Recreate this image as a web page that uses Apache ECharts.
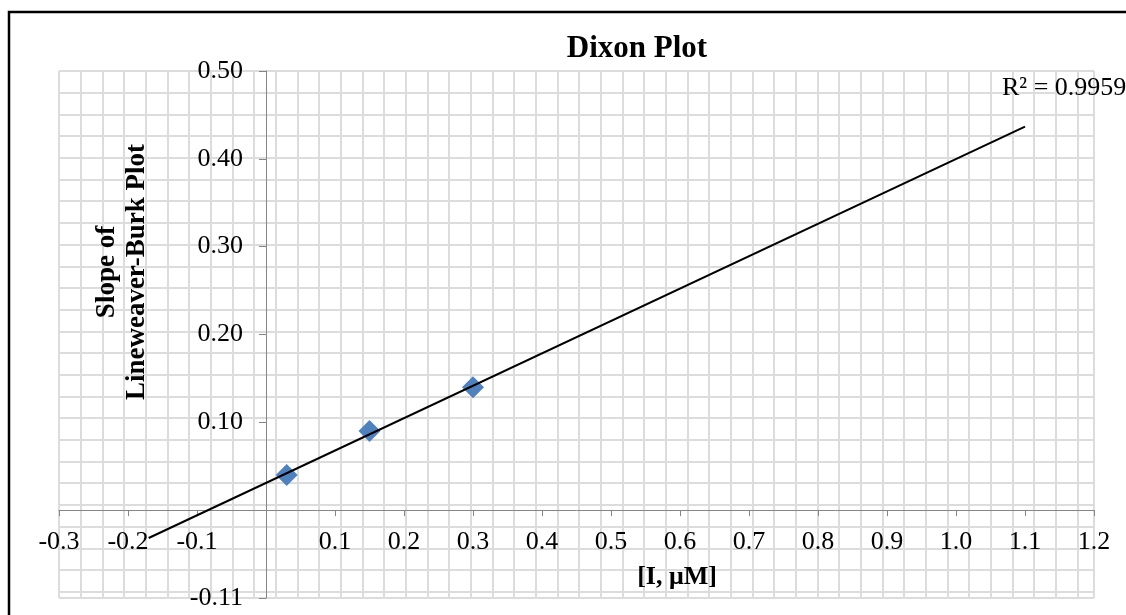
<!DOCTYPE html>
<html>
<head>
<meta charset="utf-8">
<title>Dixon Plot</title>
<script src="https://cdn.jsdelivr.net/npm/echarts@6/dist/echarts.min.js"></script>
<style>
  html, body { margin: 0; padding: 0; background: #fff; }
  #chart { width: 1126px; height: 615px; }
</style>
</head>
<body>
<div id="chart"></div>
<script>
  // measured points
  var inhibitorConc = [0.03, 0.15, 0.30];
  var lbSlope = [0.04, 0.09, 0.14];

  // linear trendline (excel: backward 0.2, forward 0.8)
  var trendX = [-0.17, 1.10];
  var trendY = [-0.0317, 0.4367];
  var rSquaredText = 'R\u00b2 = 0.9959';

  // tick labels, the zero ones are blank in the original
  var xTickValues = [-0.3, -0.2, -0.1, 0, 0.1, 0.2, 0.3, 0.4, 0.5, 0.6, 0.7, 0.8, 0.9, 1.0, 1.1, 1.2];
  var xTickLabels = ['-0.3', '-0.2', '-0.1', '', '0.1', '0.2', '0.3', '0.4', '0.5', '0.6', '0.7', '0.8', '0.9', '1.0', '1.1', '1.2'];
  var yTickValues = [-0.1, 0, 0.1, 0.2, 0.3, 0.4, 0.5];
  var yTickLabels = ['-0.11', '', '0.10', '0.20', '0.30', '0.40', '0.50'];

  var serif = '"Liberation Serif", "Times New Roman", serif';

  // plot area, in px
  var plotLeft = 59, plotRight = 1094, plotTop = 71, plotBottom = 598;
  var xMin = -0.3, xMax = 1.2, yMin = -0.1, yMax = 0.5;

  function lookup(values, labels) {
    return function(v) {
      for (var i = 0; i < values.length; i++) {
        if (Math.abs(values[i] - v) < 1e-6) {
          return labels[i];
        }
      }
      return '';
    };
  }

  // axes cross at zero: shift them with offset (labels follow)
  var yAxisShift = (0 - xMin) / (xMax - xMin) * (plotRight - plotLeft);
  var xAxisShift = (0 - yMin) / (yMax - yMin) * (plotBottom - plotTop);

  var chart = echarts.init(document.getElementById('chart'));

  chart.setOption({
    backgroundColor: '#fff',
    animation: false,
    grid: {
      left: plotLeft,
      right: 1126 - plotRight,
      top: plotTop,
      bottom: 615 - plotBottom,
      containLabel: false,
      outerBoundsMode: 'none'
    },
    xAxis: [{
      type: 'value',
      min: xMin,
      max: xMax,
      interval: 0.1,
      z: 3,
      position: 'bottom',
      offset: -xAxisShift,
      axisLine: {
        onZero: false,
        lineStyle: { color: '#868686', width: 1 }
      },
      axisTick: { show: true, length: 6, lineStyle: { color: '#868686' } },
      axisLabel: {
        margin: 19,
        color: '#000',
        fontFamily: serif,
        fontSize: 26,
        hideOverlap: false,
        showMinLabel: true,
        showMaxLabel: true,
        formatter: lookup(xTickValues, xTickLabels)
      },
      splitLine: { show: false }
    }, {
      // graph-paper background
      type: 'value',
      min: 0,
      max: 47.76,
      interval: 1,
      z: 0,
      position: 'top',
      axisLine: { show: false, onZero: false },
      axisTick: { show: false },
      axisLabel: { show: false },
      splitLine: { show: true, lineStyle: { color: '#dcdcdc', width: 2 } }
    }],
    yAxis: [{
      type: 'value',
      min: yMin,
      max: yMax,
      interval: 0.1,
      z: 3,
      position: 'left',
      offset: -yAxisShift,
      axisLine: {
        show: true,
        onZero: false,
        lineStyle: { color: '#868686', width: 1 }
      },
      axisTick: { show: true, length: 7, lineStyle: { color: '#868686' } },
      axisLabel: {
        margin: 23,
        color: '#000',
        fontFamily: serif,
        fontSize: 26,
        hideOverlap: false,
        showMinLabel: true,
        showMaxLabel: true,
        formatter: lookup(yTickValues, yTickLabels)
      },
      splitLine: { show: false }
    }, {
      type: 'value',
      inverse: true,
      min: 0,
      max: 24.29,
      interval: 1,
      z: 0,
      position: 'right',
      axisLine: { show: false, onZero: false },
      axisTick: { show: false },
      axisLabel: { show: false },
      splitLine: { show: true, lineStyle: { color: '#dcdcdc', width: 2 } }
    }],
    series: [{
      name: 'Slope',
      type: 'scatter',
      xAxisIndex: 0,
      yAxisIndex: 0,
      symbol: 'diamond',
      symbolSize: 22,
      itemStyle: { color: '#4f81bd', opacity: 1 },
      z: 3,
      data: inhibitorConc.map(function(x, i) { return [x, lbSlope[i]]; })
    }, {
      name: 'Linear (Slope)',
      type: 'line',
      xAxisIndex: 0,
      yAxisIndex: 0,
      symbol: 'none',
      lineStyle: { color: '#000', width: 2 },
      z: 4,
      data: trendX.map(function(x, i) { return [x, trendY[i]]; })
    }],
    graphic: [{
      type: 'rect',
      shape: { x: 9, y: 12, width: 1300, height: 800 },
      style: { fill: 'transparent', stroke: '#000', lineWidth: 2.5 },
      z: 100
    }, {
      type: 'text',
      x: 637,
      y: 49,
      style: {
        text: 'Dixon Plot',
        font: 'bold 31px ' + serif,
        fill: '#000',
        textAlign: 'center',
        textVerticalAlign: 'middle'
      },
      z: 100
    }, {
      type: 'text',
      x: 122,
      y: 272,
      rotation: Math.PI / 2,
      style: {
        text: 'Slope of\nLineweaver-Burk Plot',
        font: 'bold 27px ' + serif,
        lineHeight: 30,
        fill: '#000',
        textAlign: 'center',
        textVerticalAlign: 'middle'
      },
      z: 100
    }, {
      type: 'text',
      x: 677,
      y: 577,
      style: {
        text: '[I, \u03bcM]',
        font: 'bold 26px ' + serif,
        fill: '#000',
        textAlign: 'center',
        textVerticalAlign: 'middle'
      },
      z: 100
    }, {
      type: 'text',
      x: 1002,
      y: 88,
      style: {
        text: rSquaredText,
        font: '26px ' + serif,
        fill: '#000',
        textAlign: 'left',
        textVerticalAlign: 'middle'
      },
      z: 100
    }]
  });
</script>
</body>
</html>
